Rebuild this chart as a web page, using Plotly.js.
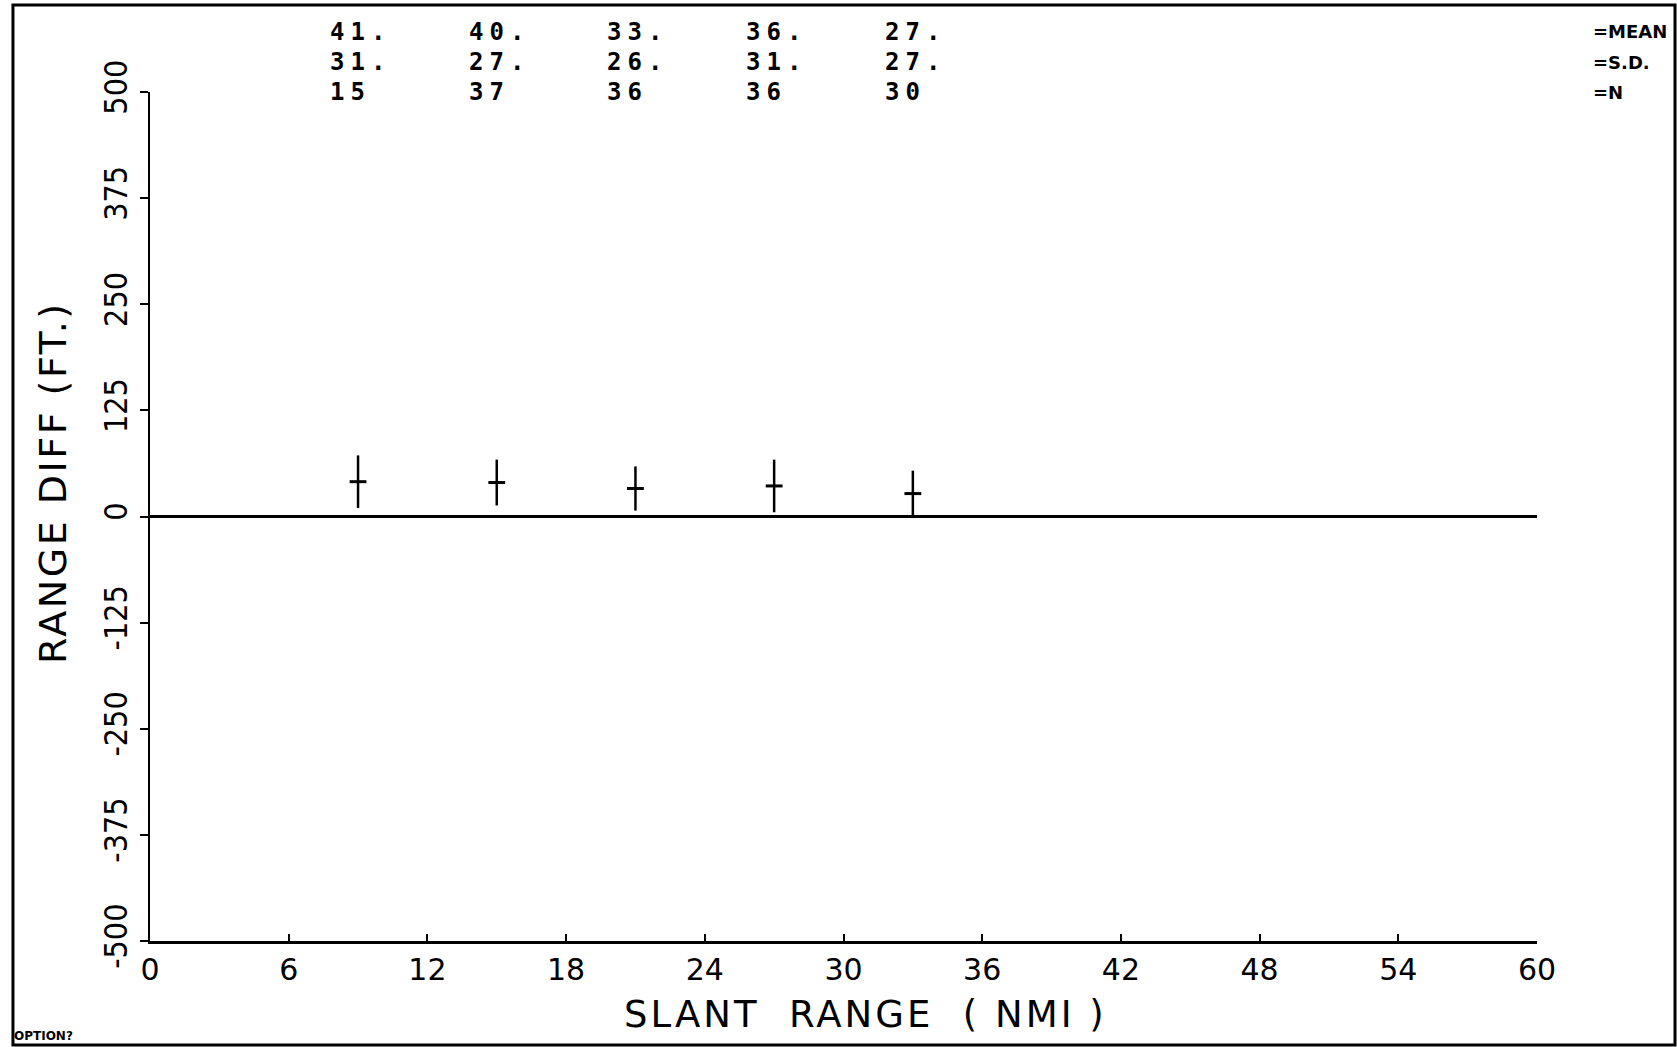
<!DOCTYPE html>
<html>
<head>
<meta charset="utf-8">
<script src="https://cdn.plot.ly/plotly-3.0.1.min.js"></script>
<style>
  html, body { margin: 0; padding: 0; background: #fff; }
  #chart { width: 1677px; height: 1047px; }
</style>
</head>
<body>
<div id="chart"></div>
<script>
// ---- data ----
const slantRange = [9, 15, 21, 27, 33];          // NMI
const meanDiff   = [41, 40, 33, 36, 27];         // FT
const sdDiff     = [31, 27, 26, 31, 27];         // FT
const nCount     = [15, 37, 36, 36, 30];
const meanText   = ["41.", "40.", "33.", "36.", "27."];
const sdText     = ["31.", "27.", "26.", "31.", "27."];
const rowLabels  = ["=MEAN", "=S.D.", "=N"];
const xTickVals  = [0, 6, 12, 18, 24, 30, 36, 42, 48, 54, 60];
const xTickText  = ["0", "6", "12", "18", "24", "30", "36", "42", "48", "54", "60"];
const yTickVals  = [-500, -375, -250, -125, 0, 125, 250, 375, 500];
const yTickText  = ["-500", "-375", "-250", "-125", "0", "125", "250", "375", "500"];

const INK = "#000";
const FONT = "DejaVu Sans, sans-serif";
const CFONT = "DejaVu Sans Condensed, DejaVu Sans, sans-serif";
const spaced = (t, px) => '<span style="letter-spacing:' + px + 'px">' + t + '</span>';

const trace = {
  type: "scatter",
  mode: "markers",
  x: slantRange,
  y: meanDiff,
  marker: { symbol: "line-ew", size: 12, color: INK, line: { color: INK, width: 3 } },
  error_y: { type: "data", array: sdDiff, visible: true, color: INK, thickness: 2.5, width: 0 },
  showlegend: false,
  hoverinfo: "x+y"
};

const rowsY = [1.0707, 1.0353, 1.0];
const annotations = [];
const rows = [meanText, sdText, nCount.map(String)];
rows.forEach((row, r) => {
  row.forEach((t, i) => {
    annotations.push({
      x: slantRange[i], xref: "x", y: rowsY[r], yref: "paper",
      text: "<b>" + spaced(t, 6) + "</b>", showarrow: false, xanchor: "left", yanchor: "middle", xshift: -30,
      font: { family: "DejaVu Sans Mono, monospace", size: 24, color: INK }
    });
  });
});
rowLabels.forEach((t, r) => {
  annotations.push({
    x: 1.039, xref: "paper", y: rowsY[r], yref: "paper",
    text: "<b>" + t + "</b>", showarrow: false, xanchor: "left", yanchor: "middle",
    font: { family: FONT, size: 18, color: INK }
  });
});
// axis titles
annotations.push({
  x: -0.0699, xref: "paper", y: 0.5395, yref: "paper",
  text: spaced("RANGE DIFF (FT.)", 2.5), textangle: -90, showarrow: false,
  xanchor: "center", yanchor: "middle",
  font: { family: FONT, size: 38, color: INK }
});
annotations.push({
  x: 0.516, xref: "paper", y: -0.086, yref: "paper",
  text: spaced("SLANT  RANGE  ( NMI )", 3), showarrow: false,
  xanchor: "center", yanchor: "middle",
  font: { family: FONT, size: 37, color: INK }
});
annotations.push({
  x: -0.0995, xref: "paper", y: -0.1225, yref: "paper",
  text: "<b>OPTION?</b>", showarrow: false, xanchor: "left", yanchor: "bottom",
  font: { family: FONT, size: 12, color: INK }
});

const layout = {
  width: 1677, height: 1047,
  margin: { l: 150, r: 140, t: 92, b: 106, pad: 0 },
  paper_bgcolor: "#fff", plot_bgcolor: "#fff",
  showlegend: false,
  xaxis: {
    range: [0, 60], tickmode: "array", tickvals: xTickVals, ticktext: xTickText,
    showgrid: false, zeroline: false, showline: true, linecolor: INK, linewidth: 2.5,
    ticks: "inside", ticklen: 7, tickwidth: 2, tickcolor: INK,
    tickfont: { family: FONT, size: 30, color: INK }, fixedrange: true
  },
  yaxis: {
    range: [-500, 500], tickmode: "array", tickvals: yTickVals, ticktext: yTickText,
    tickangle: -90,
    showgrid: false, zeroline: true, zerolinecolor: INK, zerolinewidth: 2.5,
    showline: true, linecolor: INK, linewidth: 2.5,
    ticks: "outside", ticklen: 8, tickwidth: 2, tickcolor: INK,
    tickfont: { family: CFONT, size: 32, color: INK }, fixedrange: true
  },
  annotations: annotations,
  shapes: [
    { type: "rect", xref: "paper", yref: "paper", x0: -0.0988, x1: 1.0995, y0: -0.1225, y1: 1.1025,
      line: { color: INK, width: 3 }, fillcolor: "rgba(0,0,0,0)" }
  ]
};

Plotly.newPlot("chart", [trace], layout, { displayModeBar: false, staticPlot: true });
</script>
</body>
</html>
